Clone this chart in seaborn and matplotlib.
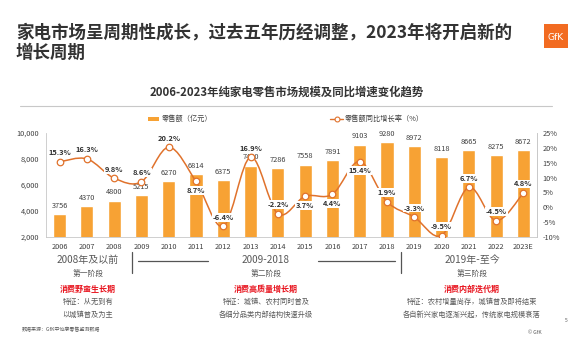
import numpy as np
import pandas as pd
import matplotlib
matplotlib.use("Agg")
import matplotlib.pyplot as plt
import seaborn as sns
from matplotlib.path import Path
from matplotlib.patches import PathPatch, Rectangle
from matplotlib.lines import Line2D

# ---------------- data ----------------
years = ["2006", "2007", "2008", "2009", "2010", "2011", "2012", "2013", "2014",
         "2015", "2016", "2017", "2018", "2019", "2020", "2021", "2022", "2023E"]
sales = [3756, 4370, 4800, 5215, 6270, 6814, 6375, 7480, 7286,
         7558, 7891, 9103, 9280, 8972, 8118, 8665, 8275, 8672]
growth = [15.3, 16.3, 9.8, 8.6, 20.2, 8.7, -6.4, 16.9, -2.2,
          3.7, 4.4, 15.4, 1.9, -3.3, -9.5, 6.7, -4.5, 4.8]
left_ticks = [2000, 4000, 6000, 8000, 10000]
right_ticks = [-10, -5, 0, 5, 10, 15, 20, 25]
bar_legend = "零售额（亿元）"
line_legend = "零售额同比增长率（%）"
title_text = "家电市场呈周期性成长，过去五年历经调整，2023年将开启新的\n增长周期"
subtitle_text = "2006-2023年纯家电零售市场规模及同比增速变化趋势"

# label placement (style): 1 = above point, -1 = below point
pct_side = [1, 1, 1, 1, 1, -1, 1, 1, 1, -1, -1, -1, 1, 1, 1, 1, 1, 1]

# ---------------- style ----------------
sns.set_theme(style="white")
plt.rcParams["font.family"] = ["Noto Sans CJK SC", "DejaVu Sans"]
plt.rcParams["axes.unicode_minus"] = False

W, H = 574, 347
BAR_C = "#F7A234"
LINE_C = "#E0722C"
GRAY = "#595959"
RED = "#E8141E"

fig = plt.figure(figsize=(W / 100, H / 100), dpi=100)
fig.patch.set_facecolor("white")

def fx(x):
    return x / W

def fy(y):
    return 1 - y / H

ax = fig.add_axes([fx(46), fy(237), fx(537) - fx(46), fy(133) - fy(237)])
df = pd.DataFrame({"year": years, "sales": sales, "growth": growth})

sns.barplot(data=df, x="year", y="sales", color=BAR_C, saturation=1,
            width=0.48, ax=ax, zorder=1)
ax.set_xlim(-0.5, len(years) - 0.5)
ax.set_ylim(2000, 10000)
ax.set_yticks(left_ticks)
ax.set_yticklabels([f"{v:,}" for v in left_ticks], fontsize=5.3, color="#404040")
ax.set_xlabel("")
ax.set_ylabel("")
ax.tick_params(axis="x", length=0, pad=4, labelsize=5.3, labelcolor="#404040")
ax.tick_params(axis="y", length=0, pad=5)
ax.set_xticks(np.arange(len(years)) + 0.5, minor=True)
ax.tick_params(axis="x", which="minor", length=3, color="#bfbfbf", width=0.6)
ax.spines["top"].set_visible(False)
for s in ["left", "right", "bottom"]:
    ax.spines[s].set_color("#c8c8c8")
    ax.spines[s].set_linewidth(0.6)

# bar value labels
for i, v in enumerate(sales):
    ax.annotate(str(v), (i, v), xytext=(0, 3.2), textcoords="offset points",
                ha="center", va="bottom", fontsize=5.3, color="#404040", zorder=2)

# secondary axis with smoothed line
ax2 = ax.twinx()
ax2.set_ylim(-10, 25)
ax2.set_yticks(right_ticks)
ax2.set_yticklabels([f"{v}%" for v in right_ticks], fontsize=5.3, color="#404040")
ax2.tick_params(axis="y", length=0, pad=4)
for s in ["top", "left", "bottom"]:
    ax2.spines[s].set_visible(False)
ax2.spines["right"].set_color("#c8c8c8")
ax2.spines["right"].set_linewidth(0.6)

xs = np.arange(len(growth), dtype=float)
ys = np.array(growth, dtype=float)
pts = np.column_stack([xs, ys])
verts = [tuple(pts[0])]
codes = [Path.MOVETO]
n = len(pts)
for i in range(n - 1):
    p0 = pts[i - 1] if i > 0 else pts[i]
    p1 = pts[i]
    p2 = pts[i + 1]
    p3 = pts[i + 2] if i + 2 < n else pts[i + 1]
    c1 = p1 + (p2 - p0) / 6.0
    c2 = p2 - (p3 - p1) / 6.0
    verts += [tuple(c1), tuple(c2), tuple(p2)]
    codes += [Path.CURVE4] * 3
ax2.add_patch(PathPatch(Path(verts, codes), facecolor="none", edgecolor=LINE_C,
                        lw=1.1, zorder=3))
sns.scatterplot(x=xs, y=ys, ax=ax2, s=22, color="white", edgecolor=LINE_C,
                linewidth=0.9, zorder=4, legend=False)

for i, v in enumerate(growth):
    side = pct_side[i]
    ax2.annotate(f"{v}%", (i, v), xytext=(0, 6.5 * side), textcoords="offset points",
                 ha="center", va="center", fontsize=5.4, fontweight="bold",
                 fontstyle="italic", color="#303030", zorder=5,
                 bbox=dict(boxstyle="square,pad=0.12", fc="white", ec="none"))

# ---------------- titles ----------------
fig.text(fx(16), fy(43), title_text, fontsize=12.6, fontweight="bold",
         color="#333333", ha="left", va="center", linespacing=1.15)
fig.text(fx(287), fy(92), subtitle_text, fontsize=8.2, fontweight="bold",
         color="#333333", ha="center", va="center")
fig.add_artist(Line2D([fx(20), fx(552)], [fy(106), fy(106)], color="#c8c8c8", lw=0.8))

# logo
fig.add_artist(Rectangle((fx(544), fy(48)), fx(568) - fx(544), fy(24) - fy(48),
                         facecolor="#F26B21", edgecolor="none"))
fig.text(fx(556), fy(37), "GfK", fontsize=6.5, color="white", ha="center",
         va="center", family=["DejaVu Sans"])

# legend
fig.add_artist(Rectangle((fx(148), fy(121)), fx(159) - fx(148), fy(117) - fy(121),
                         facecolor=BAR_C, edgecolor="none"))
fig.text(fx(162), fy(119), bar_legend, fontsize=5.2, color="#404040",
         ha="left", va="center")
fig.add_artist(Line2D([fx(330), fx(343)], [fy(119), fy(119)], color=LINE_C, lw=1.0))
fig.add_artist(Line2D([fx(336.5)], [fy(119)], marker="o", ms=3.5, mfc="white",
                      mec=LINE_C, mew=0.8))
fig.text(fx(345), fy(119), line_legend, fontsize=5.2, color="#404040",
         ha="left", va="center")

# ---------------- bottom annotations ----------------
phase_x = [88, 266, 472]
phase_year = ["2008年及以前", "2009-2018", "2019年-至今"]
phase_name = ["第一阶段", "第二阶段", "第三阶段"]
phase_red = ["消费野蛮生长期", "消费高质量增长期", "消费内部迭代期"]
phase_f1 = ["特征：从无到有", "特征：城镇、农村同时普及", "特征：农村增量尚存，城镇普及即将结束"]
phase_f2 = ["以城镇普及为主", "各细分品类内部结构快速升级", "各自新兴家电逐渐兴起，传统家电规模衰落"]
for k in range(3):
    x = fx(phase_x[k])
    fig.text(x, fy(260), phase_year[k], fontsize=7.2, color=GRAY, ha="center", va="center")
    fig.text(x, fy(275), phase_name[k], fontsize=5.6, color=GRAY, ha="center", va="center")
    fig.text(x, fy(289), phase_red[k], fontsize=5.8, color=RED, fontweight="bold",
             ha="center", va="center")
    fig.text(x, fy(302), phase_f1[k], fontsize=5.2, color=GRAY, ha="center", va="center")
    fig.text(x, fy(315), phase_f2[k], fontsize=5.2, color=GRAY, ha="center", va="center")

for xv in [132, 401]:
    fig.add_artist(Line2D([fx(xv), fx(xv)], [fy(252), fy(273)], color="#555555", lw=0.9))
for x0, x1 in [(138, 208), (318, 395)]:
    fig.add_artist(Line2D([fx(x0), fx(x1)], [fy(261), fy(261)], color="#555555", lw=0.9))

fig.text(fx(22), fy(329), "数据来源：GfK中怡康零售监测数据", fontsize=3.6, color=GRAY,
         ha="left", va="center")
fig.text(fx(535), fy(332), "© GfK", fontsize=3.6, color=GRAY, ha="center", va="center")
fig.text(fx(566), fy(321), "5", fontsize=3.6, color=GRAY, ha="center", va="center")

fig.savefig("out.png", dpi=100, facecolor="white")
